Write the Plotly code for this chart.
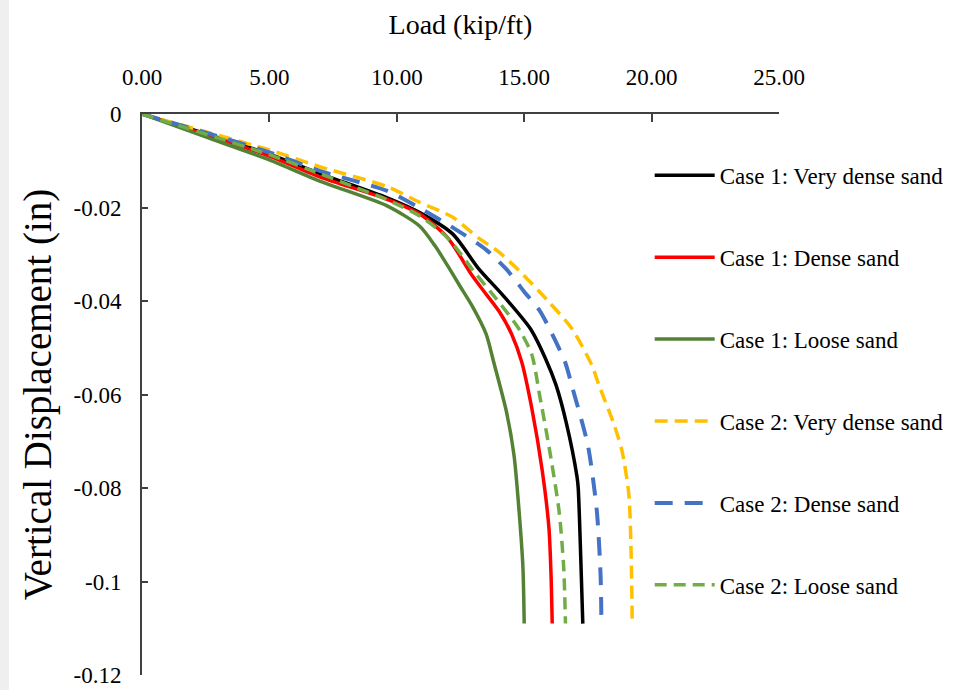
import plotly.graph_objects as go

# ---- data (Load in kip/ft, Vertical displacement in inches) ----
load_c1_vd = [0, 2.5, 5.0, 7.0, 9.6, 10.9, 12.2, 13.2, 14.2, 15.25, 15.85, 16.25, 16.65, 17.07, 17.12, 17.22, 17.3]
disp_c1_vd = [0, -0.0042, -0.0086, -0.0128, -0.0179, -0.0211, -0.0257, -0.0330, -0.0390, -0.0460, -0.0525,
              -0.0580, -0.0660, -0.0775, -0.0800, -0.0950, -0.1090]

load_c1_d = [0, 2.5, 5.0, 7.0, 9.6, 10.9, 12.0, 12.95, 13.5, 14.05, 14.5, 14.9, 15.3, 15.7, 15.97, 16.05, 16.1]
disp_c1_d = [0, -0.0044, -0.0090, -0.0135, -0.0182, -0.0214, -0.0265, -0.0345, -0.0385, -0.0425, -0.0470,
             -0.0530, -0.0630, -0.0760, -0.0885, -0.0980, -0.1090]

load_c1_l = [0, 2.5, 5.0, 7.0, 9.6, 10.9, 11.5, 12.0, 12.5, 12.95, 13.5, 13.8, 14.3, 14.6, 14.8, 14.95, 15.0]
disp_c1_l = [0, -0.0049, -0.0098, -0.0144, -0.0196, -0.0240, -0.0282, -0.0325, -0.0370, -0.0410, -0.0470,
             -0.0530, -0.0636, -0.0730, -0.0850, -0.0970, -0.1090]

load_c2_vd = [0, 2.5, 5.0, 7.0, 9.6, 10.9, 12.2, 13.2, 14.0, 14.8, 15.97, 16.88, 17.66, 17.94, 18.5, 18.84,
              19.11, 19.2, 19.24]
disp_c2_vd = [0, -0.0038, -0.0077, -0.0113, -0.0155, -0.0189, -0.0221, -0.0265, -0.0295, -0.0335, -0.0402,
              -0.0460, -0.0538, -0.0581, -0.0660, -0.0721, -0.0815, -0.0950, -0.1090]

load_c2_d = [0, 2.5, 5.0, 7.0, 9.6, 10.9, 12.2, 13.5, 14.3, 15.0, 15.6, 16.0, 16.6, 16.9, 17.5, 17.85, 18.0, 18.03]
disp_c2_d = [0, -0.0040, -0.0082, -0.0122, -0.0164, -0.0201, -0.0243, -0.0290, -0.0332, -0.0380, -0.0420,
             -0.0460, -0.0530, -0.0587, -0.0709, -0.0849, -0.0990, -0.1090]

load_c2_l = [0, 2.5, 5.0, 7.0, 8.2, 9.6, 10.9, 12.0, 13.0, 13.9, 14.8, 15.3, 15.6, 16.0, 16.37, 16.55, 16.62]
disp_c2_l = [0, -0.0043, -0.0087, -0.0128, -0.0153, -0.0183, -0.0218, -0.0265, -0.0335, -0.0395, -0.0460,
             -0.0515, -0.0600, -0.0720, -0.0850, -0.0970, -0.1090]

series_names = ["Case 1: Very dense sand", "Case 1: Dense sand", "Case 1: Loose sand",
                "Case 2: Very dense sand", "Case 2: Dense sand", "Case 2: Loose sand"]

x_tickvals = [0, 5, 10, 15, 20, 25]
x_ticktext = ["0.00", "5.00", "10.00", "15.00", "20.00", "25.00"]
y_tickvals = [0, -0.02, -0.04, -0.06, -0.08, -0.1, -0.12]
y_ticktext = ["0", "-0.02", "-0.04", "-0.06", "-0.08", "-0.1", "-0.12"]

FONT = "Liberation Serif"

styles = [
    dict(color="#000000", width=3.5, dash="solid"),
    dict(color="#FF0000", width=3.5, dash="solid"),
    dict(color="#548235", width=3.5, dash="solid"),
    dict(color="#FFC000", width=3.5, dash="13px,7px"),
    dict(color="#4472C4", width=4, dash="18px,12px"),
    dict(color="#70AD47", width=3.5, dash="12px,7px"),
]
xs = [load_c1_vd, load_c1_d, load_c1_l, load_c2_vd, load_c2_d, load_c2_l]
ys = [disp_c1_vd, disp_c1_d, disp_c1_l, disp_c2_vd, disp_c2_d, disp_c2_l]

fig = go.Figure()
for i, (x, y, name, st) in enumerate(zip(xs, ys, series_names, styles)):
    line = dict(st, shape="spline", smoothing=0.7)
    fig.add_trace(go.Scatter(x=x, y=y, mode="lines", name=name, line=line,
                             legendgroup=f"g{i}"))

fig.update_layout(
    width=964, height=690,
    margin=dict(l=142, r=185, t=114, b=15, autoexpand=False),
    paper_bgcolor="white", plot_bgcolor="white",
    font=dict(family=FONT, color="#000000"),
    showlegend=True,
    legend=dict(x=0.797, y=0.929, xanchor="left", yanchor="top",
                font=dict(family=FONT, size=23, color="#000000"),
                bgcolor="rgba(0,0,0,0)", borderwidth=0,
                tracegroupgap=49, itemwidth=60),
    shapes=[dict(type="rect", xref="paper", yref="paper",
                 x0=-142 / 637, x1=-133 / 637, y0=-15 / 561, y1=1 + 114 / 561,
                 fillcolor="#efefef", line=dict(width=0), layer="below")],
)
fig.update_xaxes(
    range=[0, 25], side="top", tickvals=x_tickvals, ticktext=x_ticktext,
    ticks="inside", ticklen=8, tickwidth=1.5, tickcolor="#404040",
    showline=True, linecolor="#404040", linewidth=2, showgrid=False, zeroline=False,
    tickfont=dict(family=FONT, size=23), ticklabelstandoff=18, automargin=False,
    title=dict(text="Load (kip/ft)", font=dict(family=FONT, size=28), standoff=22),
)
fig.update_yaxes(
    range=[-0.12, 0], tickvals=y_tickvals, ticktext=y_ticktext,
    ticks="inside", ticklen=6, tickwidth=1.5, tickcolor="#404040",
    showline=True, linecolor="#404040", linewidth=2, showgrid=False, zeroline=False,
    tickfont=dict(family=FONT, size=23), ticklabelstandoff=14, automargin=False,
    title=dict(text="Vertical Displacement (in)", font=dict(family=FONT, size=39), standoff=10),
)

fig.write_html("out.html")
